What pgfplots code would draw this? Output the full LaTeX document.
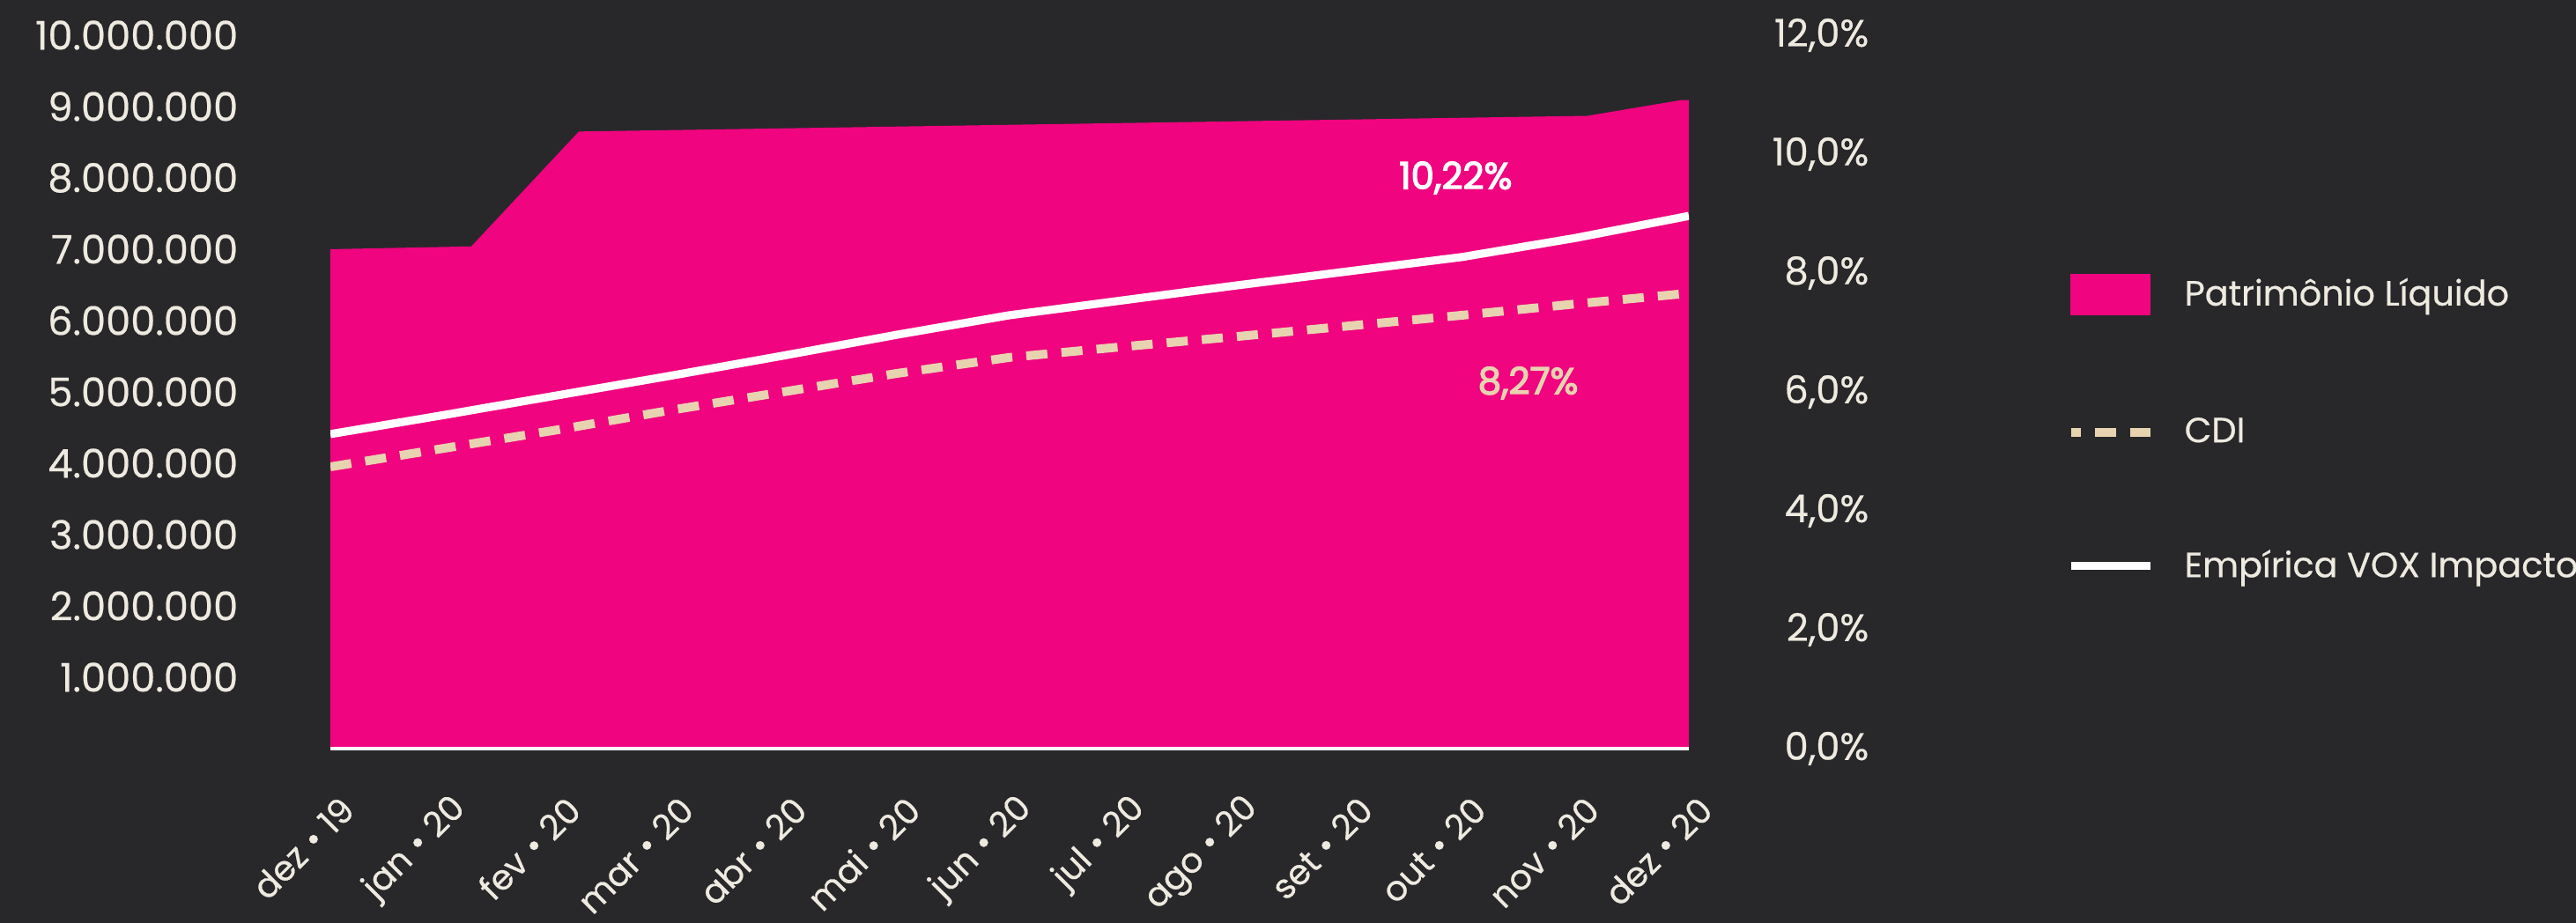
\documentclass[border=0pt]{standalone}
\usepackage{pgfplots}
\pgfplotsset{compat=1.18}
\usepackage{fontspec}
\setmainfont{Poppins}[FakeBold=0.5]
\definecolor{bgcol}{HTML}{28282B}
\definecolor{pinkcol}{HTML}{F0047F}
\definecolor{cdicol}{HTML}{E8D3B0}
\definecolor{txtcol}{HTML}{EEEAE0}
\newcommand{\numfont}{\fontsize{11.2pt}{13pt}\selectfont}
\newcommand{\pctfont}{\fontsize{10.8pt}{13pt}\selectfont}
\newcommand{\xfont}{\fontsize{9.8pt}{11pt}\selectfont}
\newcommand{\legfont}{\fontsize{9.95pt}{12pt}\selectfont}
\newcommand{\annfont}{\fontsize{10.5pt}{12pt}\selectfont\addfontfeature{FakeBold=3}}
\begin{document}
\begin{tikzpicture}
\useasboundingbox (0,0) rectangle (731pt,262pt);
\fill[bgcol] (0,0) rectangle (731pt,262pt);
\begin{axis}[
  at={(93.75pt,49.5pt)}, anchor=south west,
  scale only axis, width=385.5pt, height=202.5pt,
  xmin=0, xmax=12, ymin=0, ymax=10000000,
  axis on top,
  axis x line*=bottom, axis y line*=left,
  x axis line style={draw=white, line width=1.2pt, -},
  y axis line style={draw=none},
  major tick length=0pt,
  scaled y ticks=false,
  xtick={0,1,2,3,4,5,6,7,8,9,10,11,12},
  xticklabels={dez • 19, jan • 20, fev • 20, mar • 20, abr • 20, mai • 20, jun • 20, jul • 20, ago • 20, set • 20, out • 20, nov • 20, dez • 20},
  xticklabel style={font=\xfont, text=txtcol, inner sep=0pt, xshift=5pt, yshift=-15.5pt, rotate=45, anchor=east},
  ytick={1000000,2000000,3000000,4000000,5000000,6000000,7000000,8000000,9000000,10000000},
  yticklabels={1.000.000,2.000.000,3.000.000,4.000.000,5.000.000,6.000.000,7.000.000,8.000.000,9.000.000,10.000.000},
  yticklabel style={font=\numfont, text=txtcol, inner sep=0pt, anchor=east},
  yticklabel shift=26pt,
]
\addplot[fill=pinkcol, draw=none] coordinates {
 (0,7000000) (1.245,7040000) (2.195,8650000) (11.105,8870000) (11.93,9090000) (12,9090000)
} \closedcycle;
\end{axis}
\begin{axis}[
  at={(93.75pt,49.5pt)}, anchor=south west,
  scale only axis, width=385.5pt, height=202.5pt,
  xmin=0, xmax=12, ymin=0, ymax=12,
  axis x line=none, axis y line*=right,
  y axis line style={draw=none},
  major tick length=0pt,
  ytick={0,2,4,6,8,10,12},
  yticklabels={{0,0\%},{2,0\%},{4,0\%},{6,0\%},{8,0\%},{10,0\%},{12,0\%}},
  yticklabel style={font=\pctfont, text=txtcol, inner sep=0pt, anchor=east},
  yticklabel shift=51.25pt,
  legend cell align=left,
  legend style={at={(axis description cs:1.278,0.666)}, anchor=north west, draw=none, fill=none,
    text=txtcol, font=\legfont, inner sep=0pt, outer sep=0pt, row sep=29pt,
    nodes={inner sep=0pt},
    /tikz/every odd column/.style={column sep=8.5pt}},
]
\addlegendimage{legend image code/.code={\fill[pinkcol] (0pt,-5.75pt) rectangle (22.5pt,5.75pt);}}
\addlegendentry{Patrimônio Líquido}
\addplot[cdicol, line width=2.5pt, dash pattern=on 6pt off 4pt,
  legend image code/.code={\draw[cdicol, line width=2.5pt, dash pattern=on 6pt off 4pt, dash phase=3.25pt] (0pt,0pt) -- (22.5pt,0pt);}]
coordinates {
 (0,4.74) (1,5.05) (2,5.36) (3,5.69) (4,6.00) (5,6.31) (6,6.58) (7,6.76) (8,6.93) (9,7.11) (10,7.29) (11,7.48) (12,7.66)
};
\addlegendentry{CDI}
\addplot[white, line width=2.3pt,
  legend image code/.code={\draw[white, line width=2.3pt] (0pt,0pt) -- (22.5pt,0pt);}]
coordinates {
 (0,5.29) (1,5.61) (2,5.94) (3,6.27) (4,6.61) (5,6.96) (6,7.29) (7,7.54) (8,7.79) (9,8.03) (10,8.27) (11,8.59) (12,8.96)
};
\addlegendentry{Empírica VOX Impacto}
\node[font=\annfont, text=white] at (axis cs:9.94,9.6) {10,22\%};
\node[font=\annfont, text=cdicol] at (axis cs:10.58,6.15) {8,27\%};
\end{axis}
\end{tikzpicture}
\end{document}
